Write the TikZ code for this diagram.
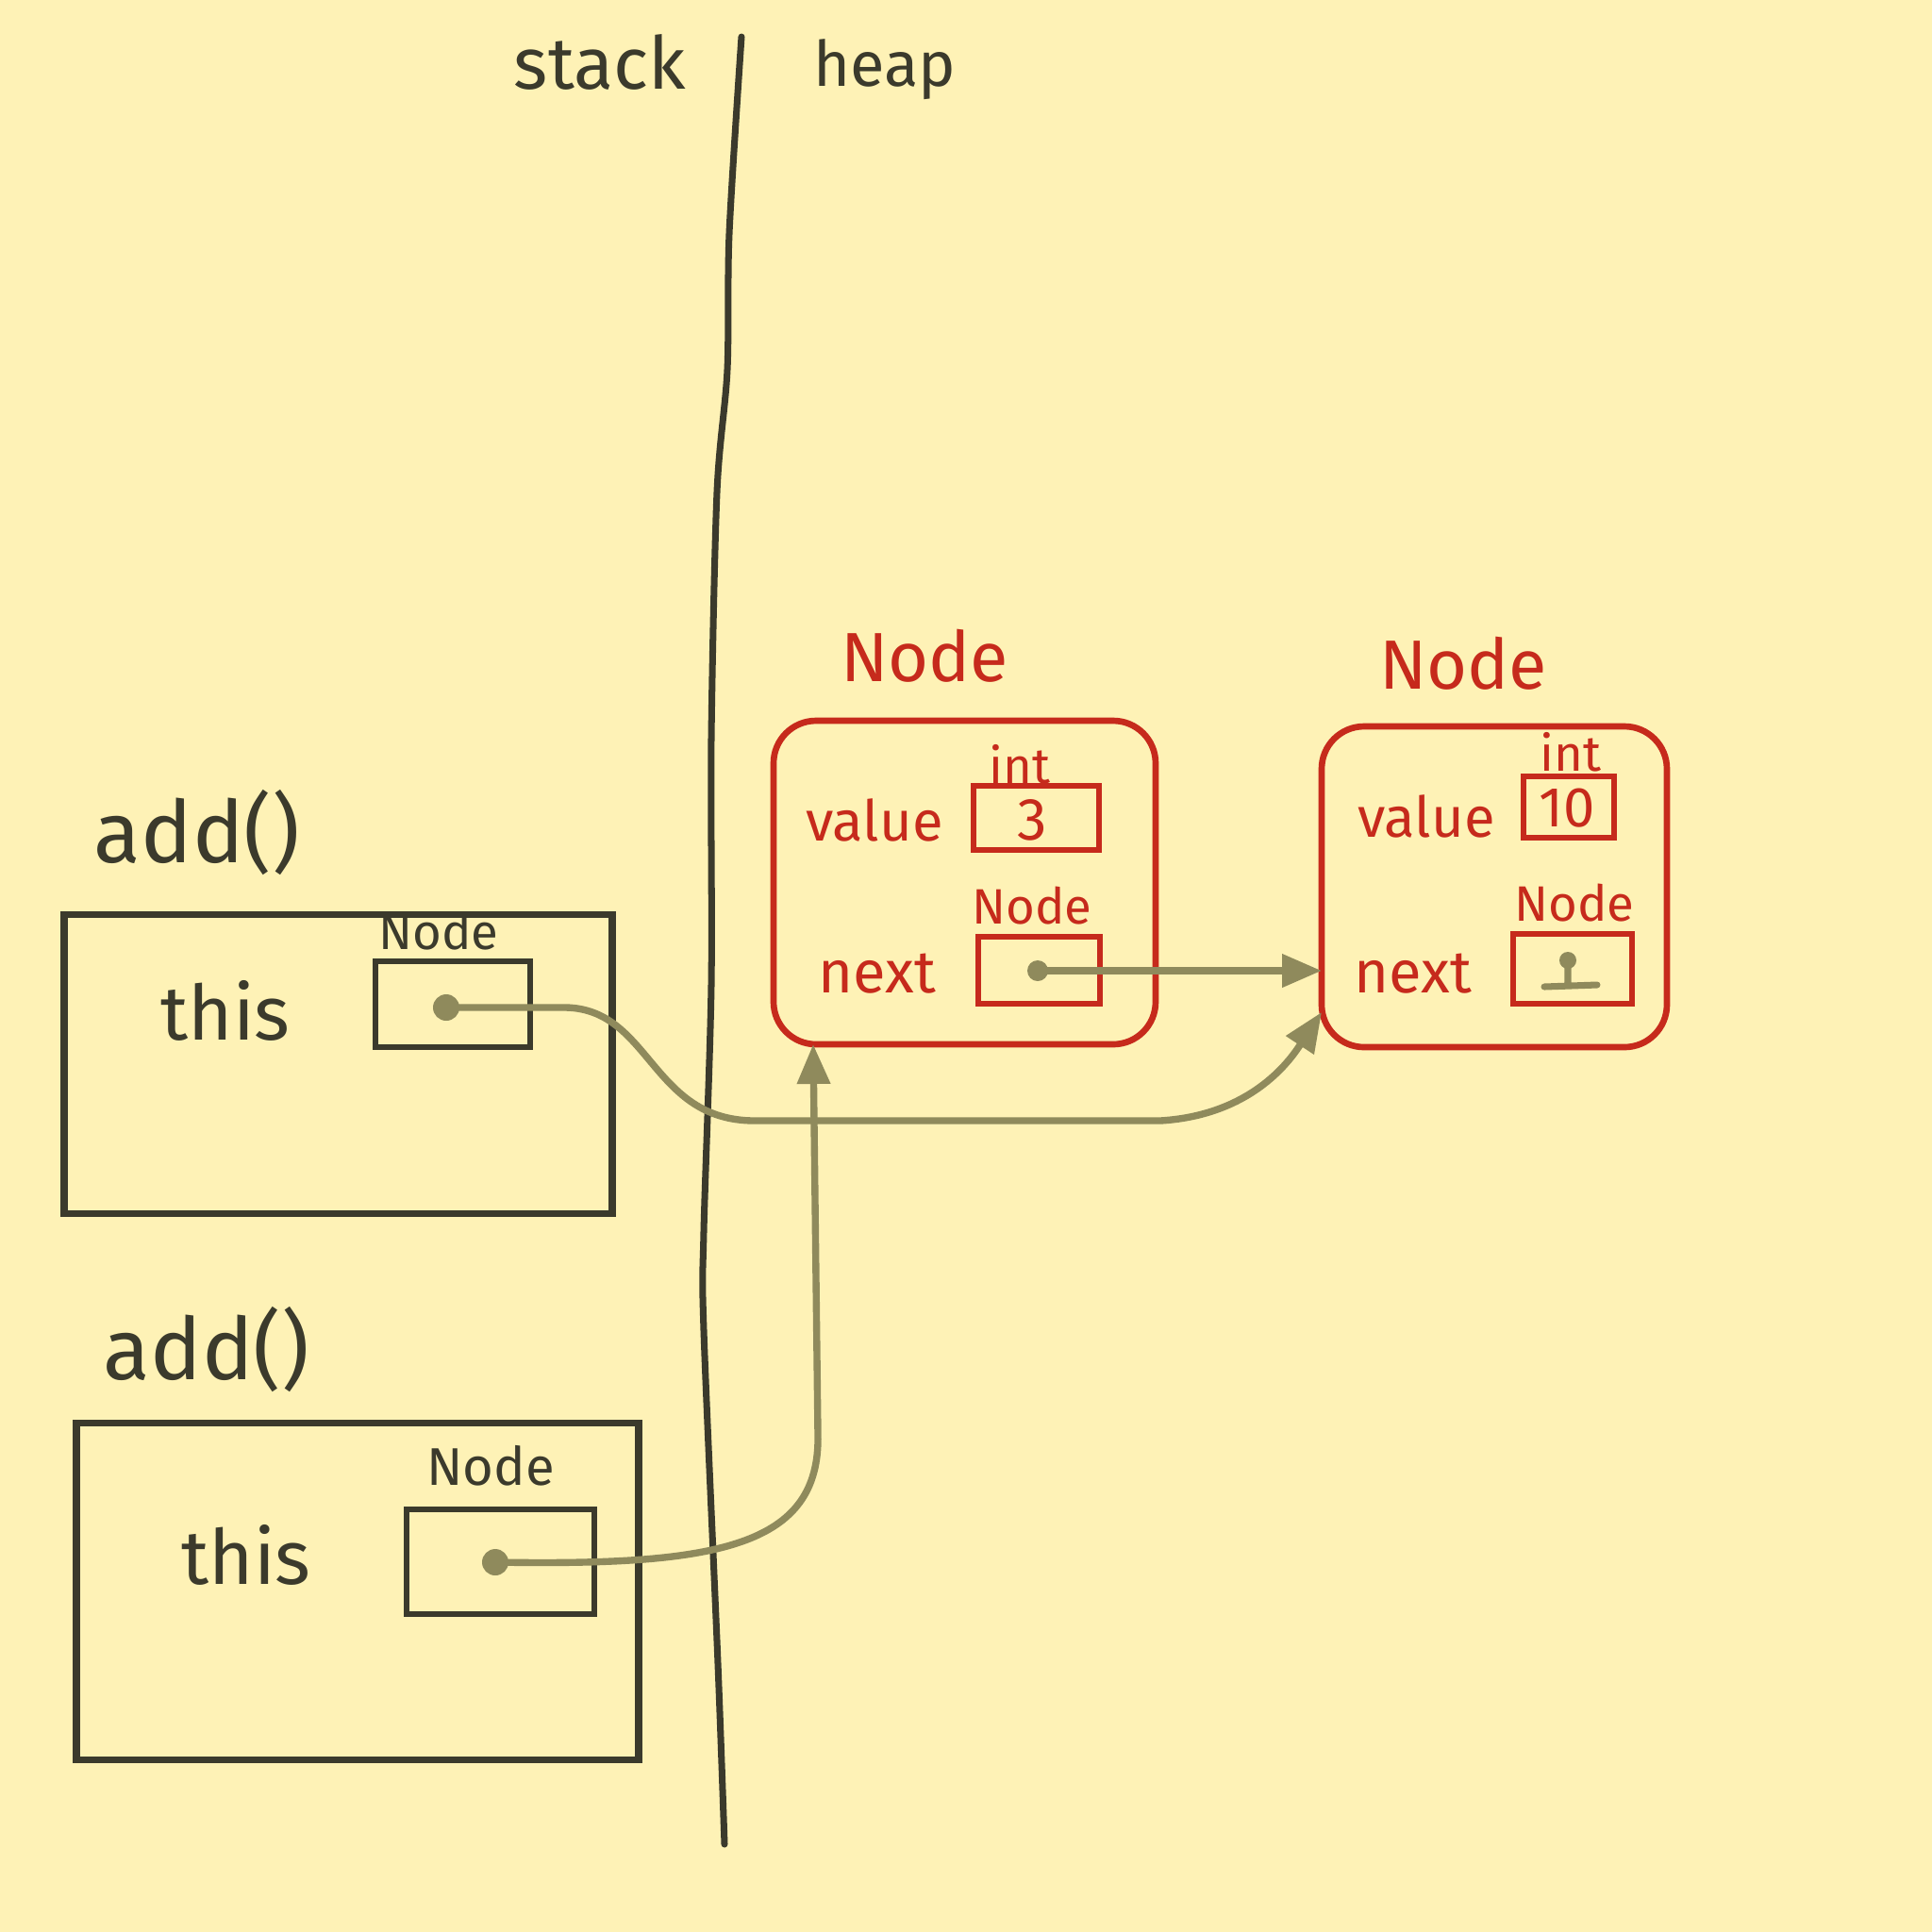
\documentclass[tikz,border=0pt]{standalone}
\usepackage{fontspec}
\setmainfont{Fira Sans}
\usetikzlibrary{arrows.meta,positioning,calc}
\definecolor{paper}{HTML}{FEF2B6}
\definecolor{ink}{HTML}{3B3A2C}
\definecolor{redink}{HTML}{C62A1C}
\definecolor{ptr}{HTML}{8F8A5C}

\begin{document}
\begin{tikzpicture}[x=1cm,y=-1cm,
    every node/.style={inner sep=0pt,outer sep=0pt},
    frame/.style={draw=ink,line width=2pt},
    refbox/.style={draw=ink,line width=1.9pt},
    obj/.style={draw=redink,line width=1.9pt,rounded corners=0.45cm},
    slot/.style={draw=redink,line width=1.8pt},
    dark/.style={text=ink,font=\fontsize{#1}{#1}\selectfont},
    red/.style={text=redink,font=\fontsize{#1}{#1}\selectfont},
    dot/.style={circle,fill=ptr,minimum size=0.22cm},
    pointer/.style={draw=ptr,line width=2.1pt,-{Triangle[length=4.2mm,width=3.4mm]}}]

    % paper
    \fill[paper] (0,0) rectangle (20.48,20.48);

    % stack | heap
    \node[dark=22] at (6.36,0.66) (stack) {stack};
    \node[dark=19] at (9.38,0.74) (heap) {heap};
    \draw[ink,line width=2pt,line cap=round] plot[smooth] coordinates
        {(7.86,0.39) (7.73,2.48) (7.71,3.92) (7.60,5.22) (7.54,7.84)
         (7.54,10.45) (7.46,13.06) (7.46,14.10) (7.61,17.63) (7.68,19.55)};

    % first frame
    \node[dark=26] at (2.09,8.82) (add1) {add()};
    \node[frame,minimum width=5.81cm,minimum height=3.17cm] at (3.585,11.275) (f1) {};
    \node[dark=23] at (2.39,10.71) (this1) {this};
    \node[dark=15] at (4.65,9.87) (type1) {Node};
    \node[refbox,minimum width=1.64cm,minimum height=0.91cm] at (4.80,10.645) (r1) {};
    \node[dot,minimum size=0.28cm] at (4.73,10.68) (d1) {};

    % second frame
    \node[dark=26] at (2.19,14.30) (add2) {add()};
    \node[frame,minimum width=5.96cm,minimum height=3.57cm] at (3.79,16.865) (f2) {};
    \node[dark=23] at (2.61,16.48) (this2) {this};
    \node[dark=16] at (5.20,15.54) (type2) {Node};
    \node[refbox,minimum width=1.99cm,minimum height=1.11cm] at (5.305,16.555) (r2) {};
    \node[dot,minimum size=0.28cm] at (5.25,16.56) (d2) {};

    % first node on the heap
    \node[red=21] at (9.80,6.95) (title1) {Node};
    \node[obj,minimum width=4.05cm,minimum height=3.43cm] at (10.225,9.355) (h1) {};
    \node[red=17] at (9.27,8.69) (value1) {value};
    \node[red=15] at (10.81,8.10) (int1) {int};
    \node[slot,minimum width=1.33cm,minimum height=0.68cm] at (10.985,8.67) (v1) {};
    \node[red=18] at (10.94,8.69) (num1) {3};
    \node[red=18] at (9.30,10.32) (next1) {next};
    \node[red=15] at (10.94,9.60) (ntype1) {Node};
    \node[slot,minimum width=1.29cm,minimum height=0.71cm] at (11.015,10.285) (n1) {};
    \node[dot,minimum size=0.22cm] at (11.00,10.29) (d3) {};

    % second node on the heap
    \node[red=21] at (15.51,7.03) (title2) {Node};
    \node[obj,minimum width=3.66cm,minimum height=3.40cm] at (15.84,9.40) (h2) {};
    \node[red=17] at (15.12,8.65) (value2) {value};
    \node[red=15] at (16.65,7.97) (int2) {int};
    \node[slot,minimum width=0.96cm,minimum height=0.65cm] at (16.63,8.555) (v2) {};
    \node[red=17] at (16.61,8.57) (num2) {10};
    \node[red=18] at (14.98,10.32) (next2) {next};
    \node[red=15] at (16.69,9.57) (ntype2) {Node};
    \node[slot,minimum width=1.26cm,minimum height=0.74cm] at (16.67,10.27) (n2) {};

    % null
    \fill[ptr] (16.62,10.18) circle (0.09);
    \draw[ptr,line width=2pt,line cap=round] (16.62,10.18) -- (16.62,10.44)
        (16.37,10.46) -- (16.93,10.44);

    % pointers
    \draw[pointer] (d1.center) -- (6.0,10.68) .. controls (6.9,10.7) and (6.9,11.88) .. (8.0,11.88)
        -- (12.3,11.88) .. controls (13.3,11.82) and (13.7,11.2) .. (h2.216);
    \draw[pointer] (d3.center) -- (h2.west |- d3);
    \draw[pointer] (d2.center) .. controls (7.6,16.6) and (8.7,16.4) .. (8.67,15.2)
        -- ($(h1.south west)+(0.42,0)$);
\end{tikzpicture}
\end{document}
